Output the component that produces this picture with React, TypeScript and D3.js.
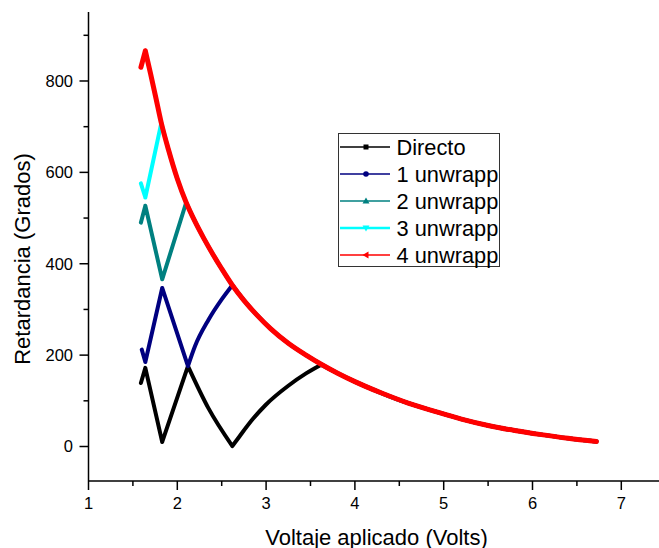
import React from "react";
import * as d3 from "d3";

// Shared tail of the retardance curve (all series converge onto it)
const TAIL_V = [1.82, 1.9, 2.0, 2.1, 2.2, 2.3, 2.4, 2.5, 2.62, 2.75, 2.9, 3.05, 3.25, 3.45, 3.62, 3.8, 4.0, 4.3, 4.6, 4.9, 5.2, 5.5, 5.8, 6.1, 6.4, 6.72];
const TAIL_R = [708, 650, 586, 534, 492, 455, 421, 389, 353, 320, 287, 258, 226, 200, 180, 161, 142, 117, 95, 77, 60, 46, 35, 26, 18, 11];

const DIRECTO_V = [1.59, 1.64, 1.83, 2.12, 2.35, 2.62, 2.7, 2.85, 3.0, 3.25, 3.45, 3.62];
const DIRECTO_R = [139, 172, 10, 176, 84, 1, 22, 60, 92, 133, 160, 179];

const UNW1_V = [1.6, 1.64, 1.83, 2.12, 2.2, 2.35, 2.5, 2.62];
const UNW1_R = [212, 185, 347, 176, 220, 277, 322, 353];

const UNW2_V = [1.59, 1.64, 1.83, 2.1];
const UNW2_R = [490, 527, 366, 534];

const UNW3_V = [1.59, 1.64, 1.82];
const UNW3_R = [576, 545, 708];

const UNW4_V = [1.59, 1.64, 1.7, 1.76];
const UNW4_R = [830, 866, 815, 762];

const SERIES_NAMES = ["Directo", "1 unwrapp", "2 unwrapp", "3 unwrapp", "4 unwrapp"];
const SERIES_COLORS = ["#000000", "#000080", "#008080", "#00FFFF", "#FF0000"];

const X_TICKS = [1, 2, 3, 4, 5, 6, 7];
const X_MINOR = [1.5, 2.5, 3.5, 4.5, 5.5, 6.5];
const Y_TICKS = [0, 200, 400, 600, 800];
const Y_MINOR = [100, 300, 500, 700, 900];

function withTail(v: number[], r: number[]) {
  const pts = v.map((x, i) => [x, r[i]] as [number, number]);
  const last = v[v.length - 1];
  TAIL_V.forEach((x, i) => {
    if (x > last + 1e-9) pts.push([x, TAIL_R[i]]);
  });
  return pts;
}

// split into monotone runs so corners stay sharp while runs are smooth
function runs(pts: [number, number][]) {
  const out: [number, number][][] = [];
  let cur: [number, number][] = [pts[0]];
  let sign = 0;
  for (let i = 1; i < pts.length; i++) {
    const s = Math.sign(pts[i][1] - pts[i - 1][1]);
    if (sign !== 0 && s !== sign) {
      out.push(cur);
      cur = [pts[i - 1]];
    }
    cur.push(pts[i]);
    sign = s;
  }
  out.push(cur);
  return out;
}

export default function App() {
  const W = 659, H = 548;
  const x = d3.scaleLinear().domain([1, 1 + (659 - 88.5) / 88.8]).range([88.5, 659]);
  const y = d3.scaleLinear().domain([-75.5, 951]).range([481, 12]);
  const line = d3.line<[number, number]>().x(d => x(d[0])).y(d => y(d[1])).curve(d3.curveMonotoneX);

  const series = [
    withTail(DIRECTO_V, DIRECTO_R),
    withTail(UNW1_V, UNW1_R),
    withTail(UNW2_V, UNW2_R),
    withTail(UNW3_V, UNW3_R),
    withTail(UNW4_V, UNW4_R),
  ];
  const widths = [4, 4, 4, 4, 5];
  const font = "'Liberation Sans', Arial, sans-serif";

  const markers = [
    (cx: number, cy: number, c: string) => <rect x={cx - 2.5} y={cy - 2.5} width={5} height={5} fill={c} />,
    (cx: number, cy: number, c: string) => <circle cx={cx} cy={cy} r={2.8} fill={c} />,
    (cx: number, cy: number, c: string) => <path d={`M${cx},${cy - 3.5}L${cx + 3.5},${cy + 2.5}L${cx - 3.5},${cy + 2.5}Z`} fill={c} />,
    (cx: number, cy: number, c: string) => <path d={`M${cx},${cy + 3.5}L${cx + 3.5},${cy - 2.5}L${cx - 3.5},${cy - 2.5}Z`} fill={c} />,
    (cx: number, cy: number, c: string) => <path d={`M${cx - 3.5},${cy}L${cx + 2.5},${cy - 3.5}L${cx + 2.5},${cy + 3.5}Z`} fill={c} />,
  ];

  return (
    <svg width={W} height={H} style={{ position: "absolute", left: 0, top: 0, background: "#fff" }} fontFamily={font}>
      <rect x={0} y={0} width={W} height={H} fill="#fff" />
      {series.map((pts, i) => (
        <path key={i} d={runs(pts).map(r => line(r) || "").join("")} fill="none" stroke={SERIES_COLORS[i]} strokeWidth={widths[i]} strokeLinejoin="round" strokeLinecap="round" />
      ))}
      {/* axes */}
      <line x1={88.5} x2={88.5} y1={12} y2={481} stroke="#000" strokeWidth={1.5} />
      <line x1={88} x2={659} y1={481} y2={481} stroke="#000" strokeWidth={1.5} />
      {X_TICKS.map(t => (
        <g key={"x" + t}>
          <line x1={x(t)} x2={x(t)} y1={481} y2={490} stroke="#000" strokeWidth={1.5} />
          <text x={x(t)} y={508.5} fontSize={16.5} textAnchor="middle" fill="#000">{t}</text>
        </g>
      ))}
      {X_MINOR.map(t => (
        <line key={"xm" + t} x1={x(t)} x2={x(t)} y1={481} y2={486} stroke="#000" strokeWidth={1.5} />
      ))}
      {Y_TICKS.map(t => (
        <g key={"y" + t}>
          <line x1={79.5} x2={88.5} y1={y(t)} y2={y(t)} stroke="#000" strokeWidth={1.5} />
          <text x={73} y={y(t) + 5.8} fontSize={16.5} textAnchor="end" fill="#000">{t}</text>
        </g>
      ))}
      {Y_MINOR.map(t => (
        <line key={"ym" + t} x1={83.5} x2={88.5} y1={y(t)} y2={y(t)} stroke="#000" strokeWidth={1.5} />
      ))}
      <text x={376.5} y={544.5} fontSize={22} textAnchor="middle" fill="#000">Voltaje aplicado (Volts)</text>
      <text transform="translate(29.5,259) rotate(-90)" fontSize={22} textAnchor="middle" fill="#000">Retardancia (Grados)</text>
      {/* legend */}
      <rect x={338.5} y={133.5} width={161} height={133} fill="#fff" stroke="#333" strokeWidth={1} />
      {SERIES_NAMES.map((n, i) => {
        const ly = 147 + i * 27;
        return (
          <g key={n}>
            <line x1={340} x2={390} y1={ly} y2={ly} stroke={SERIES_COLORS[i]} strokeWidth={i === 3 ? 2.5 : 1.5} />
            {markers[i](366, ly, SERIES_COLORS[i])}
            <text x={396.5} y={ly + 7.6} fontSize={21.8} fill="#000">{n}</text>
          </g>
        );
      })}
    </svg>
  );
}
